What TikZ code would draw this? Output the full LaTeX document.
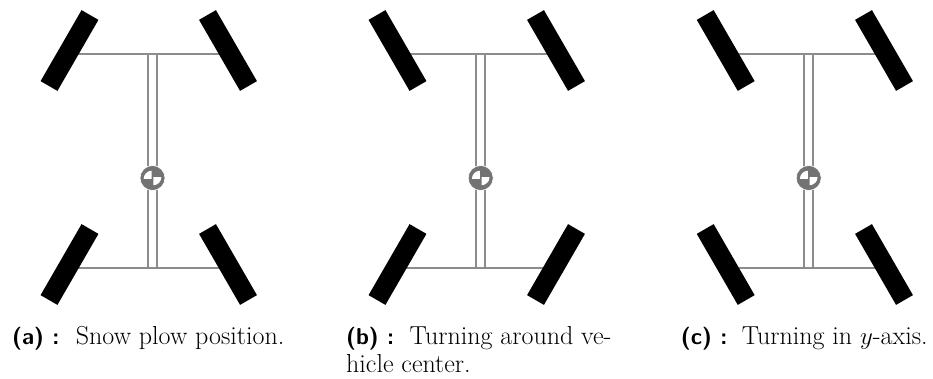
\documentclass[tikz,border=0pt]{standalone}
\usepackage{fontspec}
\setmainfont{Latin Modern Roman}
\setsansfont{Latin Modern Sans}
\usetikzlibrary{backgrounds}
\definecolor{framegray}{gray}{0.55}
\definecolor{coggray}{gray}{0.45}
\newcommand{\lab}[1]{{\fontsize{23pt}{28pt}\selectfont\sffamily\bfseries #1}}
\tikzset{
  wheel/.style={draw=none,fill=black,rectangle,minimum width=82pt,minimum height=19.5pt,inner sep=0pt},
  frameline/.style={draw=framegray,line width=2pt},
  cogdisc/.style={circle,fill=coggray,draw=white,line width=0.6pt,minimum size=25pt,inner sep=0pt},
  capt/.style={anchor=base west,inner sep=0pt,font=\fontsize{26pt}{28pt}\selectfont},
}
% #1 prefix, #2 centre x, #3 left wheel x, #4 right wheel x, #5..#8 wheel angles tl tr bl br
\newcommand{\carsketch}[8]{%
  \node[wheel,rotate=#5] (#1tl) at (#3,50.5) {};
  \node[wheel,rotate=#6] (#1tr) at (#4,50.5) {};
  \node[wheel,rotate=#7] (#1bl) at (#3,264.5) {};
  \node[wheel,rotate=#8] (#1br) at (#4,264.5) {};
  \coordinate (#1ta) at (#2,53.5);
  \coordinate (#1ba) at (#2,268);
  \begin{scope}[on background layer]
    \draw[frameline] (#1tl |- #1ta) -- (#1tr |- #1ta);
    \draw[frameline] (#1bl |- #1ba) -- (#1br |- #1ba);
    \draw[frameline] ([xshift=-4.3pt]#1ta) -- ([xshift=-4.3pt]#1ba);
    \draw[frameline] ([xshift=4.3pt]#1ta) -- ([xshift=4.3pt]#1ba);
  \end{scope}
  \node[cogdisc] (#1cog) at (#2,178) {};
  \fill[white] ([shift={(-0.8pt,-0.8pt)}]#1cog.center) -- ++(-8,0) arc[start angle=180,end angle=90,radius=8pt] -- cycle;
  \fill[white] ([shift={(0.8pt,0.8pt)}]#1cog.center) -- ++(8,0) arc[start angle=0,end angle=-90,radius=8pt] -- cycle;
}
\begin{document}
\begin{tikzpicture}[x=1pt,y=-1pt]
\useasboundingbox (0,0) rectangle (933,378);
\carsketch{a}{152.5}{69.5}{228}{60}{-60}{60}{-60}
\carsketch{b}{480.7}{397.5}{556}{-60}{-60}{60}{60}
\carsketch{c}{808.7}{725.7}{884}{-60}{-60}{-60}{-60}
\node[capt] (capa) at (12,344) {\lab{(a) :}\hspace{6pt} Snow plow position.};
\node[capt] (capb) at (346,344) {\lab{(b) :}\hspace{5pt} Turning around ve-};
\node[capt] (capb2) at (346,372) {hicle center.};
\node[capt] (capc) at (680.7,344) {\lab{(c) :}\hspace{4pt} Turning in $y$-axis.};
\end{tikzpicture}
\end{document}
